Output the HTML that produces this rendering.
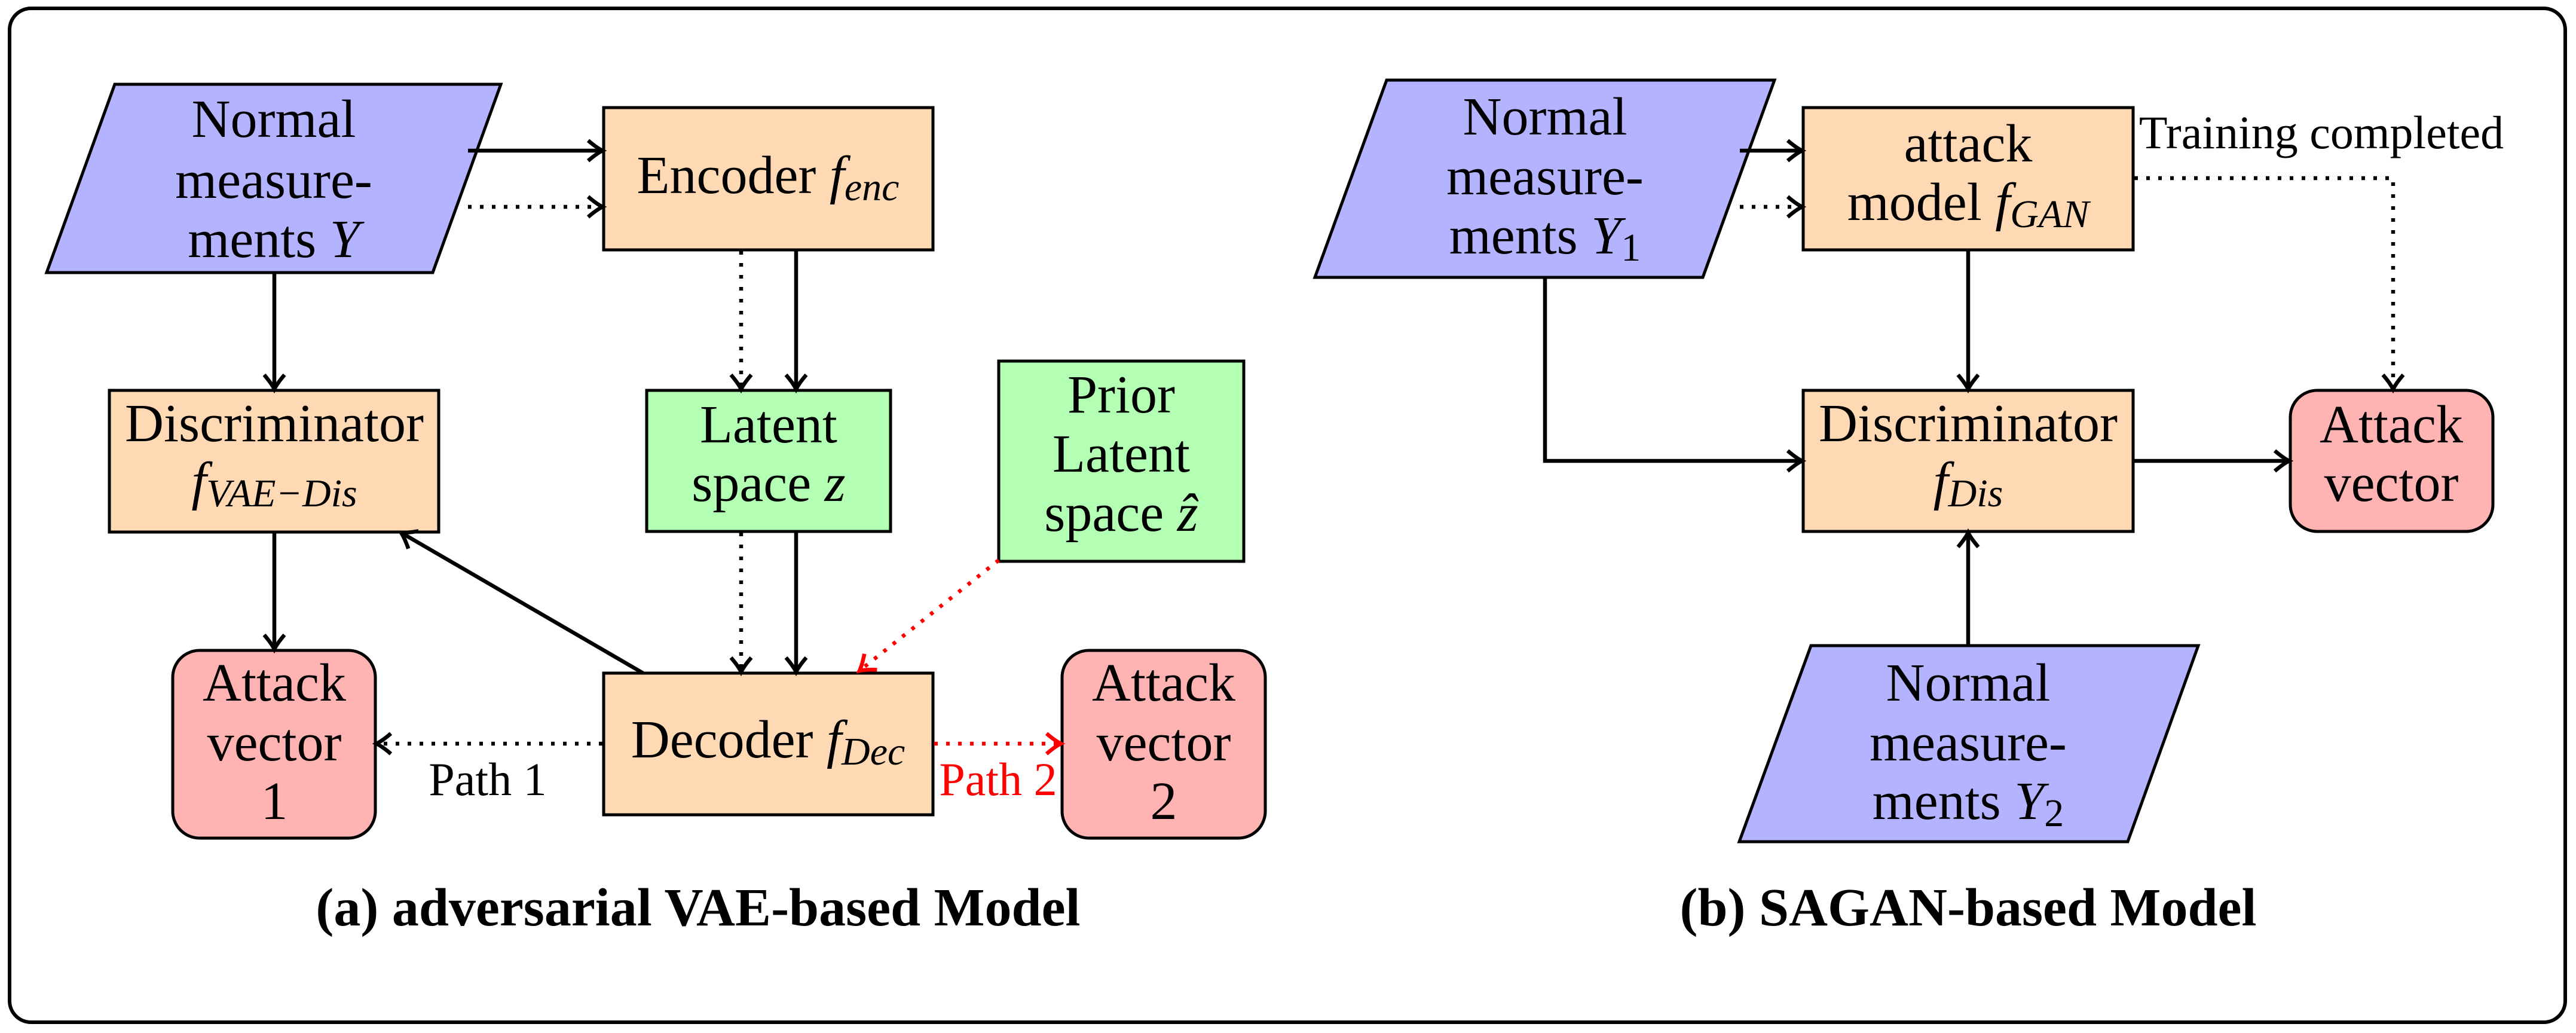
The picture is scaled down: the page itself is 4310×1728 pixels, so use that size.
<!DOCTYPE html>
<html><head><meta charset="utf-8"><style>
html,body{margin:0;padding:0;background:#fff;}
svg{display:block;}
text{font-family:"Liberation Serif",serif;font-size:90px;fill:#000;}
.it{font-style:italic;}
.sub{font-style:italic;font-size:66px;}
.bx{stroke:#000;stroke-width:5;}
.ln{stroke:#000;stroke-width:6.5;fill:none;}
.dt{stroke:#000;stroke-width:6.5;fill:none;stroke-dasharray:6 14;}
.rd{stroke:#f00;stroke-width:6.5;fill:none;stroke-dasharray:6 14;}
</style></head><body>
<svg width="4310" height="1728" viewBox="0 0 4310 1728" xmlns="http://www.w3.org/2000/svg">
<defs>
<marker id="a" markerUnits="userSpaceOnUse" markerWidth="46" markerHeight="46" refX="34" refY="23" orient="auto">
<path d="M10,6 Q24,18 34,23 Q24,28 10,40" fill="none" stroke="#000" stroke-width="6.5"/></marker>
<marker id="r" markerUnits="userSpaceOnUse" markerWidth="46" markerHeight="46" refX="34" refY="23" orient="auto">
<path d="M10,6 Q24,18 34,23 Q24,28 10,40" fill="none" stroke="#f00" stroke-width="6.5"/></marker>
</defs>
<rect x="16" y="14" width="4276" height="1696" rx="36" fill="none" stroke="#000" stroke-width="6"/>

<!-- LEFT -->
<polygon class="bx" points="192,141 838,141 724,456 78,456" fill="#b3b3ff"/>
<text x="458" y="229" text-anchor="middle">Normal</text>
<text x="458" y="331" text-anchor="middle">measure-</text>
<text x="458" y="430" text-anchor="middle">ments <tspan class="it">Y</tspan></text>

<rect class="bx" x="1010" y="180" width="551" height="238" fill="#fed9b3"/>
<text x="1285" y="323" text-anchor="middle">Encoder <tspan class="it">f</tspan><tspan class="sub" dy="12">enc</tspan></text>

<rect class="bx" x="183" y="653" width="551" height="237" fill="#fed9b3"/>
<text x="459" y="738" text-anchor="middle">Discriminator</text>
<text x="459" y="835" text-anchor="middle"><tspan class="it">f</tspan><tspan class="sub" dy="12">VAE−Dis</tspan></text>

<rect class="bx" x="1082" y="653" width="408" height="236" fill="#b3ffb3"/>
<text x="1286" y="740" text-anchor="middle">Latent</text>
<text x="1286" y="838" text-anchor="middle">space <tspan class="it">z</tspan></text>

<rect class="bx" x="1671" y="604" width="410" height="335" fill="#b3ffb3"/>
<text x="1876" y="690" text-anchor="middle">Prior</text>
<text x="1876" y="789" text-anchor="middle">Latent</text>
<text x="1876" y="888" text-anchor="middle">space <tspan class="it">ẑ</tspan></text>

<rect class="bx" x="289" y="1088" width="339" height="314" rx="45" fill="#ffb3b3"/>
<text x="459" y="1172" text-anchor="middle">Attack</text>
<text x="459" y="1272" text-anchor="middle">vector</text>
<text x="459" y="1370" text-anchor="middle">1</text>

<rect class="bx" x="1010" y="1126" width="551" height="237" fill="#fed9b3"/>
<text x="1285" y="1267" text-anchor="middle">Decoder <tspan class="it">f</tspan><tspan class="sub" dy="12">Dec</tspan></text>

<rect class="bx" x="1777" y="1088" width="340" height="314" rx="45" fill="#ffb3b3"/>
<text x="1947" y="1172" text-anchor="middle">Attack</text>
<text x="1947" y="1272" text-anchor="middle">vector</text>
<text x="1947" y="1370" text-anchor="middle">2</text>

<line class="ln" x1="783" y1="252" x2="1008" y2="252" marker-end="url(#a)"/>
<line class="dt" x1="783" y1="346" x2="1008" y2="346" marker-end="url(#a)"/>
<line class="ln" x1="459" y1="456" x2="459" y2="651" marker-end="url(#a)"/>
<line class="dt" x1="1240" y1="420" x2="1240" y2="651" marker-end="url(#a)"/>
<line class="ln" x1="1332" y1="420" x2="1332" y2="651" marker-end="url(#a)"/>
<line class="dt" x1="1240" y1="891" x2="1240" y2="1124" marker-end="url(#a)"/>
<line class="ln" x1="1332" y1="891" x2="1332" y2="1124" marker-end="url(#a)"/>
<line class="ln" x1="459" y1="890" x2="459" y2="1086" marker-end="url(#a)"/>
<line class="ln" x1="1076" y1="1126" x2="671" y2="891" marker-end="url(#a)"/>
<line class="rd" x1="1671" y1="937" x2="1438" y2="1122" marker-end="url(#r)"/>
<line class="dt" x1="1008" y1="1244" x2="630" y2="1244" marker-end="url(#a)"/>
<line class="rd" x1="1563" y1="1244" x2="1775" y2="1244" marker-end="url(#r)"/>
<text x="816" y="1330" text-anchor="middle" style="font-size:78px">Path 1</text>
<text x="1670" y="1330" text-anchor="middle" style="font-size:78px;fill:#f00">Path 2</text>

<text x="1168" y="1548" text-anchor="middle" font-weight="bold">(a) adversarial VAE-based Model</text>

<!-- RIGHT -->
<polygon class="bx" points="2320,134 2969,134 2849,464 2200,464" fill="#b3b3ff"/>
<text x="2585" y="225" text-anchor="middle">Normal</text>
<text x="2585" y="325" text-anchor="middle">measure-</text>
<text x="2585" y="424" text-anchor="middle">ments <tspan class="it">Y</tspan><tspan style="font-size:66px" dy="12">1</tspan></text>

<rect class="bx" x="3017" y="180" width="552" height="238" fill="#fed9b3"/>
<text x="3293" y="270" text-anchor="middle">attack</text>
<text x="3293" y="368" text-anchor="middle">model <tspan class="it">f</tspan><tspan class="sub" dy="12">GAN</tspan></text>

<text x="3884" y="248" text-anchor="middle" style="font-size:78px">Training completed</text>

<rect class="bx" x="3017" y="653" width="552" height="236" fill="#fed9b3"/>
<text x="3293" y="738" text-anchor="middle">Discriminator</text>
<text x="3293" y="835" text-anchor="middle"><tspan class="it">f</tspan><tspan class="sub" dy="12">Dis</tspan></text>

<rect class="bx" x="3832" y="653" width="339" height="236" rx="45" fill="#ffb3b3"/>
<text x="4001" y="740" text-anchor="middle">Attack</text>
<text x="4001" y="838" text-anchor="middle">vector</text>

<polygon class="bx" points="3030,1080 3678,1080 3560,1408 2910,1408" fill="#b3b3ff"/>
<text x="3293" y="1172" text-anchor="middle">Normal</text>
<text x="3293" y="1272" text-anchor="middle">measure-</text>
<text x="3293" y="1370" text-anchor="middle">ments <tspan class="it">Y</tspan><tspan style="font-size:66px" dy="12">2</tspan></text>

<line class="ln" x1="2911" y1="252" x2="3015" y2="252" marker-end="url(#a)"/>
<line class="dt" x1="2911" y1="346" x2="3015" y2="346" marker-end="url(#a)"/>
<polyline class="dt" points="3571,298 4004,298 4004,651" marker-end="url(#a)"/>
<line class="ln" x1="3293" y1="420" x2="3293" y2="651" marker-end="url(#a)"/>
<polyline class="ln" points="2585,464 2585,771 3015,771" marker-end="url(#a)"/>
<line class="ln" x1="3569" y1="771" x2="3830" y2="771" marker-end="url(#a)"/>
<line class="ln" x1="3293" y1="1080" x2="3293" y2="891" marker-end="url(#a)"/>

<text x="3293" y="1548" text-anchor="middle" font-weight="bold">(b) SAGAN-based Model</text>
</svg>
</body></html>
